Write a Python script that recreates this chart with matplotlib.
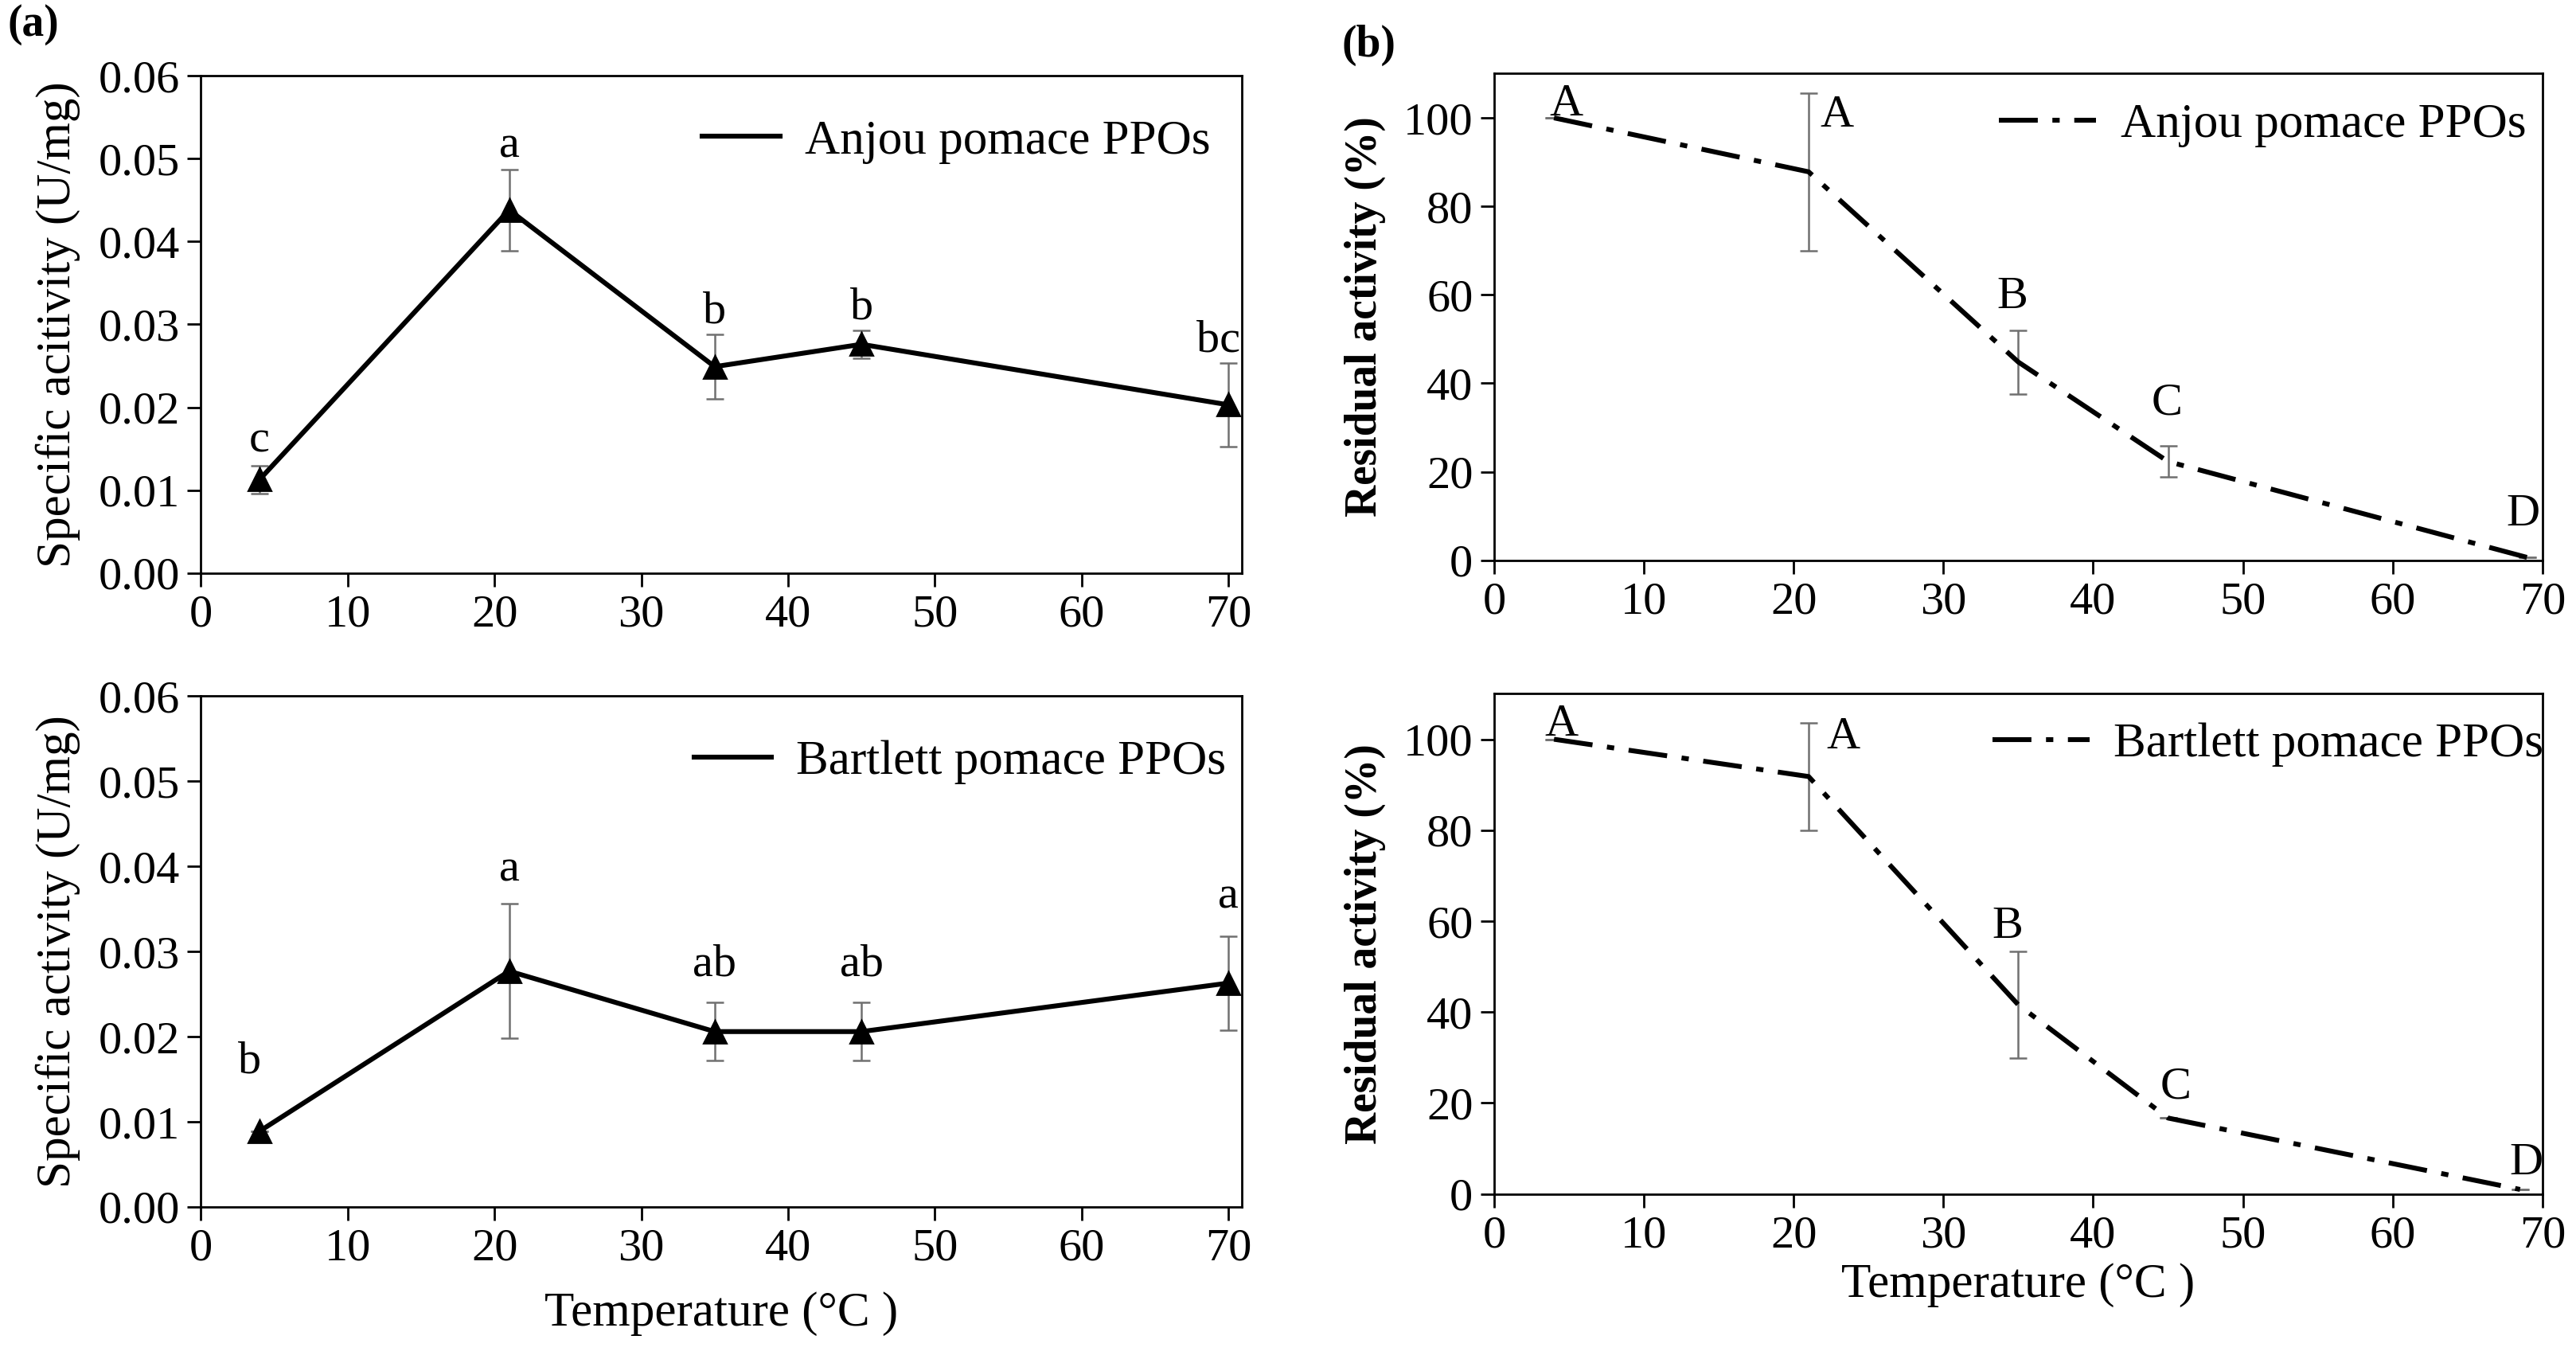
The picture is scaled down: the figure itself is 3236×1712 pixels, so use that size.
import matplotlib
matplotlib.use("Agg")
import matplotlib.pyplot as plt

plt.rcParams['font.family'] = ['Liberation Serif', 'DejaVu Serif']

# ---- data ----
temp_a = [4, 21, 35, 45, 70]

anjou_act = [0.0113, 0.0438, 0.0249, 0.0276, 0.0203]
anjou_err = [0.0017, 0.0049, 0.0039, 0.0017, 0.0050]
anjou_let = ['c', 'a', 'b', 'b', 'bc']

bart_act = [0.0089, 0.0277, 0.0206, 0.0206, 0.0263]
bart_err = [0.0, 0.0079, 0.0034, 0.0034, 0.0055]
bart_let = ['b', 'a', 'ab', 'ab', 'a']

temp_b_anjou = [4, 21, 35, 45, 69]
anjou_res = [100, 87.8, 44.8, 22.3, 0.6]
anjou_res_err = [0, 17.8, 7.2, 3.5, 0]
anjou_res_let = ['A', 'A', 'B', 'C', 'D']

temp_b_bart = [4, 21, 35, 45, 68.5]
bart_res = [100, 91.8, 41.6, 16.7, 1.0]
bart_res_err = [0, 11.8, 11.8, 0, 0]
bart_res_let = ['A', 'A', 'B', 'C', 'D']

# letter label positions (annotation placement)
anjou_lab_x = [4, 21, 35, 45, 69.3]
anjou_lab_y = [0.0135, 0.0490, 0.0290, 0.0295, 0.0256]
bart_lab_x = [3.3, 21, 35, 45, 70]
bart_lab_y = [0.0146, 0.0372, 0.0260, 0.0260, 0.0340]
anjou_res_lab_x = [4.8, 22.9, 34.6, 44.9, 68.7]
anjou_res_lab_y = [103, 100.5, 59.5, 35.5, 10.3]
bart_res_lab_x = [4.5, 23.3, 34.3, 45.5, 68.9]
bart_res_lab_y = [103.3, 100.5, 58.8, 23.5, 6.7]

fig = plt.figure(figsize=(16.18, 8.56), dpi=200)

ax1 = fig.add_axes([0.078, 0.5795, 0.404, 0.365])
ax2 = fig.add_axes([0.078, 0.1145, 0.404, 0.3747])
ax3 = fig.add_axes([0.580, 0.589, 0.407, 0.357])
ax4 = fig.add_axes([0.580, 0.124, 0.407, 0.367])

tick_fs = 21
lab_fs = 21
leg_fs = 22
dashdot = (0, (8, 3, 1.5, 3))


def style(ax):
    for s in ax.spines.values():
        s.set_linewidth(1.0)
        s.set_color('black')
    ax.tick_params(axis='both', direction='out', length=6, width=1.0,
                   labelsize=tick_fs, top=False, right=False)


def panel_a(ax, y, err, letters, lx, ly, name, ylab, leg_x):
    ax.errorbar(temp_a, y, yerr=err, fmt='none', ecolor='#707070',
                elinewidth=0.9, capsize=4, capthick=0.9, zorder=2)
    ax.plot(temp_a, y, color='black', lw=2.2, label=name, zorder=3)
    ax.plot(temp_a, y, linestyle='none', marker='^', ms=10,
            color='black', zorder=4)
    for t, xx, yy in zip(letters, lx, ly):
        ax.text(xx, yy, t, ha='center', va='bottom', fontsize=lab_fs)
    ax.set_xlim(0, 70.9)
    ax.set_ylim(0, 0.06)
    ax.set_xticks(range(0, 71, 10))
    ax.set_yticks([0, 0.01, 0.02, 0.03, 0.04, 0.05, 0.06])
    ax.set_yticklabels(['%.2f' % v for v in ax.get_yticks()])
    ax.set_ylabel(ylab, fontsize=22, labelpad=8)
    ax.legend(loc='upper right', frameon=False, fontsize=leg_fs,
              handlelength=1.6, handletextpad=0.5,
              bbox_to_anchor=(leg_x, 1.0))
    style(ax)


def panel_b(ax, x, y, err, letters, lx, ly, name, leg_x):
    ax.errorbar(x, y, yerr=err, fmt='none', ecolor='#707070',
                elinewidth=0.9, capsize=4, capthick=0.9, zorder=2)
    ax.plot(x, y, color='black', lw=2.2, linestyle=dashdot, label=name,
            zorder=3)
    for t, xx, yy in zip(letters, lx, ly):
        ax.text(xx, yy, t, ha='center', va='center', fontsize=lab_fs)
    ax.set_xlim(0, 70)
    ax.set_ylim(0, 110)
    ax.set_xticks(range(0, 71, 10))
    ax.set_yticks(range(0, 101, 20))
    ax.set_ylabel('Residual activity (%)', fontsize=20, fontweight='bold',
                  labelpad=8)
    ax.legend(loc='upper right', frameon=False, fontsize=leg_fs,
              handlelength=2.0, handletextpad=0.5,
              bbox_to_anchor=(leg_x, 1.03))
    style(ax)


panel_a(ax1, anjou_act, anjou_err, anjou_let, anjou_lab_x, anjou_lab_y,
        'Anjou pomace PPOs', 'Specific acitivity (U/mg)', 1.012)
panel_a(ax2, bart_act, bart_err, bart_let, bart_lab_x, bart_lab_y,
        'Bartlett pomace PPOs', 'Specific activity (U/mg)', 1.027)
panel_b(ax3, temp_b_anjou, anjou_res, anjou_res_err, anjou_res_let,
        anjou_res_lab_x, anjou_res_lab_y, 'Anjou pomace PPOs', 1.026)
panel_b(ax4, temp_b_bart, bart_res, bart_res_err, bart_res_let,
        bart_res_lab_x, bart_res_lab_y, 'Bartlett pomace PPOs', 1.043)

ax2.set_xlabel('Temperature (°C )', fontsize=22, labelpad=10)
ax4.set_xlabel('Temperature (°C )', fontsize=22, labelpad=3)

fig.text(0.003, 0.997, '(a)', fontsize=20, fontweight='bold', va='top')
fig.text(0.521, 0.982, '(b)', fontsize=20, fontweight='bold', va='top')

fig.savefig('out.png', dpi=200)
